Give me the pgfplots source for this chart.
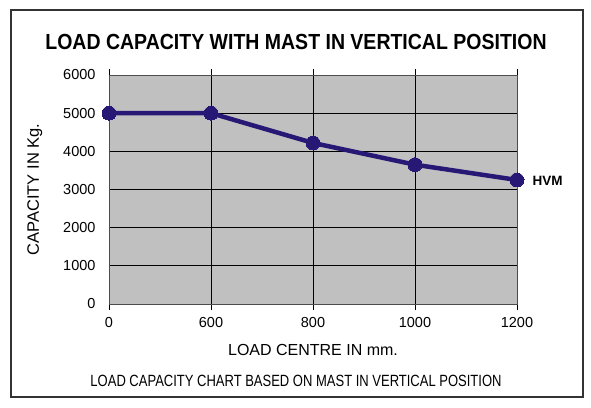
\documentclass[border=0pt]{standalone}
\usepackage{pgfplots}
\pgfplotsset{compat=1.18}
\usepackage{fontspec}
\setmainfont{Liberation Sans}
\definecolor{plotgray}{RGB}{192,192,192}
\definecolor{navy}{RGB}{40,24,118}
\begin{document}
\begin{tikzpicture}[x=1pt,y=1pt]
% page and frame
\fill[white] (0,0) rectangle (591,407);
\draw[line width=2pt, black!80] (11,10) rectangle (583,397);
\node[font=\bfseries\fontsize{19.5}{22}\selectfont] at (296,365) {\scalebox{1}[1.12]{LOAD CAPACITY WITH MAST IN VERTICAL POSITION}};
\begin{axis}[
    at={(109pt,103pt)}, anchor=south west,
    scale only axis,
    width=408pt, height=229pt,
    xmin=0, xmax=4,
    ymin=0, ymax=6000,
    xtick={0,1,2,3,4},
    xticklabels={0,600,800,1000,1200},
    ytick={0,1000,...,6000},
    axis background/.style={fill=plotgray},
    axis line style={black!70, line width=0.8pt},
    grid=major,
    grid style={black, line width=0.7pt},
    xtick style={black, line width=0.7pt},
    tick align=outside,
    major tick length=6pt,
    ytick style={draw=none},
    tick label style={font=\fontsize{14.5}{16}\selectfont},
    /pgf/number format/assume math mode=true,
    scaled y ticks=false,
    yticklabel style={/pgf/number format/1000 sep={}, xshift=-4pt},
    xticklabel style={yshift=-4pt},
    xlabel={LOAD CENTRE IN mm.},
    xlabel style={font=\fontsize{16}{18}\selectfont, yshift=-10pt},
    ylabel={CAPACITY IN Kg.},
    ylabel style={font=\fontsize{16.5}{18}\selectfont, yshift=14pt},
    clip=false,
]
\addplot[navy, line width=4.5pt, mark=*, mark size=7pt, mark options={fill=navy, draw=navy, line width=0pt}]
    coordinates {(0,5000) (1,5000) (2,4220) (3,3650) (4,3250)};
\node[font=\bfseries\fontsize{13.5}{15}\selectfont, anchor=west] at (axis cs:4,3250) [xshift=12pt, yshift=-1pt] {HVM};
\end{axis}
\node[font=\fontsize{13}{15}\selectfont] at (296,26) {\scalebox{1}[1.25]{LOAD CAPACITY CHART BASED ON MAST IN VERTICAL POSITION}};
\end{tikzpicture}
\end{document}
